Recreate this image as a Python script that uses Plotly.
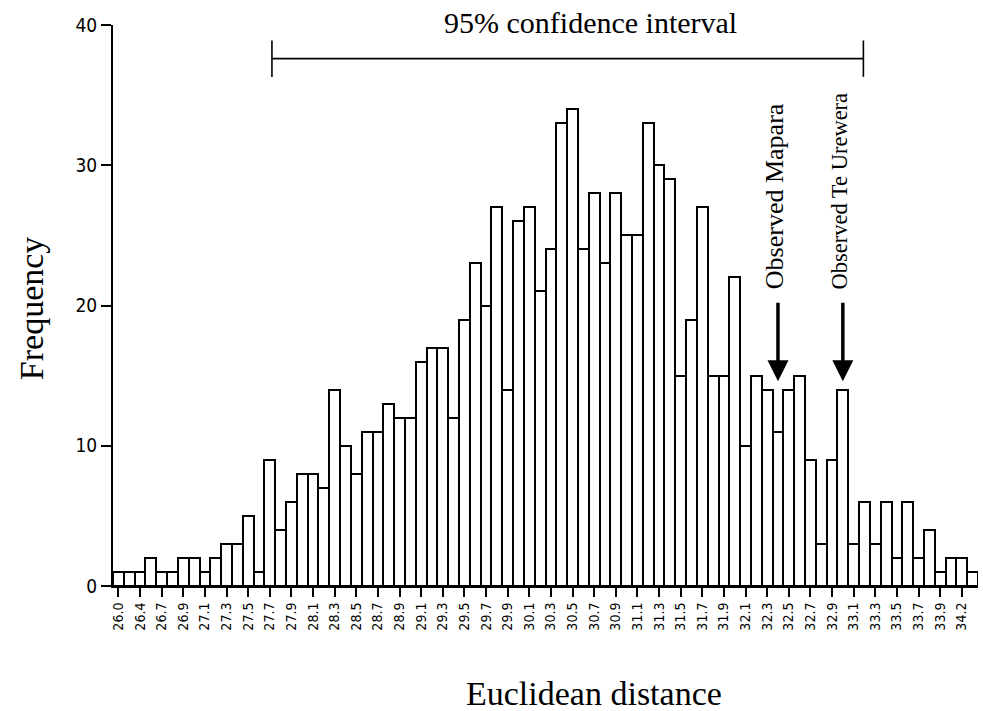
import plotly.graph_objects as go

frequency = [1, 1, 1, 2, 1, 1, 2, 2, 1, 2, 3, 3, 5, 1, 9, 4, 6, 8, 8, 7,
             14, 10, 8, 11, 11, 13, 12, 12, 16, 17, 17, 12, 19, 23, 20, 27, 14, 26, 27, 21,
             24, 33, 34, 24, 28, 23, 28, 25, 25, 33, 30, 29, 15, 19, 27, 15, 15, 22, 10, 15,
             14, 11, 14, 15, 9, 3, 9, 14, 3, 6, 3, 6, 2, 6, 2, 4, 1, 2, 2, 1]

tick_labels = ["26.0", "26.4", "26.7", "26.9", "27.1", "27.3", "27.5", "27.7", "27.9", "28.1",
               "28.3", "28.5", "28.7", "28.9", "29.1", "29.3", "29.5", "29.7", "29.9", "30.1",
               "30.3", "30.5", "30.7", "30.9", "31.1", "31.3", "31.5", "31.7", "31.9", "32.1",
               "32.3", "32.5", "32.7", "32.9", "33.1", "33.3", "33.5", "33.7", "33.9", "34.2"]

bin_index = list(range(len(frequency)))
tick_index = bin_index[::2]

ci_bounds = [14.2, 68.9]          # bin-index units
ci_level = 37.6
observed_labels = ["Observed Mapara", "Observed Te Urewera"]
observed_bins = [61, 67]
observed_sizes = [26, 22.5]

serif = "Liberation Serif, Times New Roman, serif"
tickfont = "Liberation Sans Narrow, DejaVu Sans Condensed, Arial Narrow, sans-serif"

fig = go.Figure(go.Bar(
    x=bin_index, y=frequency,
    marker=dict(color="white", line=dict(color="black", width=2)),
    width=1.0,
))

shapes = [
    dict(type="line", xref="x", yref="y", x0=ci_bounds[0], x1=ci_bounds[1], y0=ci_level, y1=ci_level,
         line=dict(color="black", width=1.6)),
    dict(type="line", xref="x", yref="y", x0=ci_bounds[0], x1=ci_bounds[0], y0=ci_level - 1.3, y1=ci_level + 1.3,
         line=dict(color="black", width=1.6)),
    dict(type="line", xref="x", yref="y", x0=ci_bounds[1], x1=ci_bounds[1], y0=ci_level - 1.3, y1=ci_level + 1.3,
         line=dict(color="black", width=1.6)),
]

annotations = [
    dict(text="95% confidence interval", xref="x", yref="paper", x=43.7, y=1.005,
         yanchor="middle", showarrow=False, font=dict(family=serif, size=30, color="black")),
    dict(text="Frequency", xref="paper", yref="paper", x=-0.095, y=0.495, textangle=-90,
         xanchor="center", yanchor="middle", showarrow=False,
         font=dict(family=serif, size=34, color="black")),
    dict(text="Euclidean distance", xref="paper", yref="paper", x=0.556, y=-0.191,
         xanchor="center", yanchor="middle", showarrow=False,
         font=dict(family=serif, size=34, color="black")),
]
for label, idx, sz in zip(observed_labels, observed_bins, observed_sizes):
    annotations.append(dict(text=label, xref="x", yref="y", x=idx - 0.3, y=21.0, textangle=-90,
                            xanchor="center", yanchor="bottom", showarrow=False,
                            font=dict(family=serif, size=sz, color="black")))
    annotations.append(dict(text="", xref="x", yref="y", x=idx, y=14.6,
                            axref="x", ayref="y", ax=idx, ay=20.3,
                            showarrow=True, arrowhead=2, arrowsize=1.2, arrowwidth=3.5,
                            arrowcolor="black"))

fig.update_layout(
    width=983, height=711,
    margin=dict(l=113, r=5, t=25, b=125),
    paper_bgcolor="white", plot_bgcolor="white",
    showlegend=False, bargap=0,
    shapes=shapes, annotations=annotations,
    xaxis=dict(range=[-0.5, 79.5], tickmode="array", tickvals=tick_index, ticktext=tick_labels,
               tickangle=-90, ticks="outside", ticklen=9, tickwidth=2, tickcolor="black",
               showline=True, linecolor="black", linewidth=2, showgrid=False, zeroline=False,
               tickfont=dict(family=tickfont, size=14, color="black")),
    yaxis=dict(range=[0, 40], tickmode="array", tickvals=[0, 10, 20, 30, 40],
               ticks="outside", ticklen=10, tickwidth=2, tickcolor="black",
               showline=True, linecolor="black", linewidth=2, showgrid=False, zeroline=False,
               tickfont=dict(family=tickfont, size=19, color="black")),
)

fig.write_html("out.html")
